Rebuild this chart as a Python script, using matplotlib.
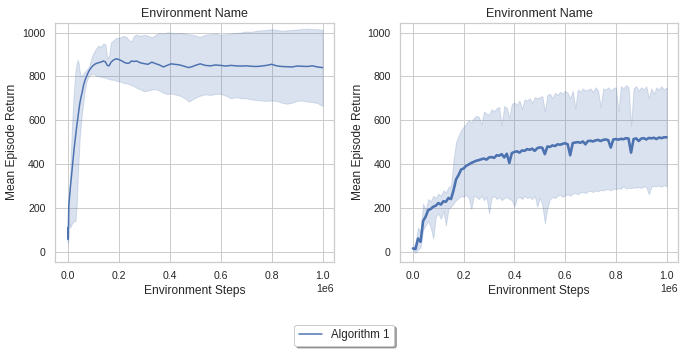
import numpy as np
import matplotlib
matplotlib.use("Agg")
import matplotlib.pyplot as plt
import seaborn as sns

sns.set_theme(style="whitegrid")
plt.rcParams['font.family'] = ['Liberation Sans', 'DejaVu Sans']

# ---- left panel (steps in thousands) ----
left_steps_k = [0, 2, 4, 7, 10, 15, 20, 25, 30, 35, 39, 43, 47, 52, 57, 62, 67, 72, 78, 85,
                92, 100, 110, 120, 130, 140, 148, 155, 162, 170, 180, 190, 200, 210, 220, 230,
                240, 250, 260, 270, 285, 300, 315, 330, 345, 360, 375, 390, 405, 420, 440, 460,
                475, 490, 505, 520, 540, 560, 580, 600, 620, 640, 660, 680, 700, 720, 740, 760,
                780, 800, 820, 840, 860, 880, 900, 920, 940, 960, 980, 1000]
left_mean = [110, 55, 210, 250, 290, 350, 410, 470, 520, 570, 605, 640, 675, 705, 730, 760, 780,
             795, 812, 828, 840, 850, 858, 862, 865, 870, 866, 850, 848, 865, 875, 880, 877, 872,
             865, 860, 860, 870, 868, 870, 862, 858, 855, 865, 858, 852, 843, 850, 857, 855, 852,
             845, 840, 845, 852, 857, 850, 848, 852, 850, 847, 850, 848, 847, 848, 846, 845, 847,
             850, 855, 848, 845, 844, 843, 847, 846, 845, 848, 843, 840]
left_lo = [40, 45, 120, 130, 110, 125, 135, 140, 140, 210, 330, 430, 520, 590, 640, 690, 735,
           770, 790, 805, 810, 812, 805, 800, 798, 795, 795, 790, 788, 785, 785, 780, 778, 775,
           770, 768, 765, 760, 755, 748, 740, 732, 735, 740, 742, 735, 725, 720, 722, 718, 712,
           700, 685, 695, 705, 712, 718, 715, 720, 720, 712, 700, 705, 700, 700, 695, 692, 690,
           688, 690, 688, 680, 675, 680, 688, 690, 685, 683, 678, 665]
left_hi = [125, 110, 220, 300, 380, 530, 650, 750, 820, 860, 875, 860, 820, 800, 805, 815, 820,
           828, 835, 850, 880, 905, 925, 940, 935, 950, 945, 880, 895, 955, 965, 975, 975, 980,
           985, 980, 965, 960, 985, 990, 985, 990, 985, 978, 990, 998, 995, 1000, 1000, 995, 998,
           995, 992, 990, 985, 980, 990, 992, 995, 990, 992, 995, 998, 1000, 1005, 1003, 1008,
           1010, 1012, 1015, 1012, 1008, 1010, 1012, 1014, 1016, 1018, 1016, 1015, 1012]

# ---- right panel (steps in millions, every 0.01) ----
right_steps_m = [i / 100 for i in range(101)]
right_mean = [15, 12, 60, 45, 140, 160, 190, 195, 205, 210,
              222, 215, 230, 228, 245, 240, 280, 330, 350, 375,
              380, 392, 398, 405, 410, 415, 418, 422, 425, 420,
              430, 432, 428, 440, 438, 445, 430, 447, 405, 450,
              455, 458, 452, 462, 460, 468, 465, 470, 460, 472,
              476, 474, 445, 480, 478, 485, 482, 490, 488, 492,
              495, 490, 440, 496, 498, 500, 497, 503, 490, 505,
              506, 503, 508, 510, 505, 510, 512, 509, 475, 512,
              514, 511, 515, 513, 518, 516, 452, 514, 517, 505,
              516, 518, 512, 519, 517, 520, 514, 521, 518, 522, 522]
right_lo = [5, -5, 10, 20, 100, 120, 140, 110, 60, 160,
            175, 150, 185, 120, 195, 205, 220, 235, 245, 255,
            250, 260, 245, 195, 255, 250, 240, 255, 235, 250,
            175, 245, 255, 240, 250, 235, 245, 250, 240, 235,
            205, 245, 250, 240, 255, 245, 250, 240, 255, 205,
            245, 215, 130, 200, 240, 250, 245, 255, 260, 250,
            258, 262, 255, 265, 268, 262, 270, 272, 268, 275,
            278, 272, 280, 276, 282, 280, 284, 286, 280, 288,
            285, 290, 287, 300, 288, 292, 290, 294, 292, 296,
            290, 298, 295, 262, 297, 300, 298, 302, 296, 304, 298]
right_hi = [20, 40, 110, 90, 220, 190, 240, 230, 255, 245,
            265, 255, 280, 270, 295, 300, 420, 500, 530, 555,
            570, 585, 600, 590, 610, 620, 615, 580, 640, 630,
            625, 650, 640, 655, 660, 575, 665, 655, 610, 675,
            680, 670, 690, 650, 695, 690, 700, 680, 705, 700,
            705, 710, 640, 715, 720, 700, 725, 715, 730, 720,
            735, 725, 700, 735, 655, 740, 730, 745, 735, 740,
            745, 730, 750, 735, 660, 745, 740, 750, 735, 745,
            750, 640, 755, 745, 760, 750, 575, 745, 755, 735,
            750, 740, 755, 700, 745, 720, 750, 740, 755, 740, 750]

color = '#4c72b0'
fig = plt.figure(figsize=(686 / 72, 353 / 72), dpi=72)
ax1 = fig.add_axes([0.0802, 0.2578, 0.4067, 0.678])
ax2 = fig.add_axes([0.5835, 0.2578, 0.4048, 0.678])

panels = [
    (ax1, np.array(left_steps_k) * 1e3, left_mean, left_lo, left_hi, 1.5),
    (ax2, np.array(right_steps_m) * 1e6, right_mean, right_lo, right_hi, 2.6),
]
for ax, x, m, lo, hi, lw in panels:
    ax.fill_between(x, lo, hi, color=color, alpha=0.2)
    ax.plot(x, m, color=color, lw=lw)
    ax.set_ylim(-47, 1045)
    ax.set_xlim(-0.05e6, 1.045e6)
    ax.set_yticks([0, 200, 400, 600, 800, 1000])
    ax.set_title('Environment Name', fontsize=12.5)
    ax.set_xlabel('Environment Steps', fontsize=12)
    ax.set_ylabel('Mean Episode Return', fontsize=12)
    ax.tick_params(labelsize=10.5)
    ax.xaxis.get_offset_text().set_fontsize(10.5)

leg_line, = ax1.plot([], [], color=color, lw=1.5)
fig.legend([leg_line], ['Algorithm 1'], loc='center', bbox_to_anchor=(0.502, 0.05),
           fontsize=11.5, shadow=True, fancybox=True, frameon=True)

fig.savefig('out.png', dpi=72)
